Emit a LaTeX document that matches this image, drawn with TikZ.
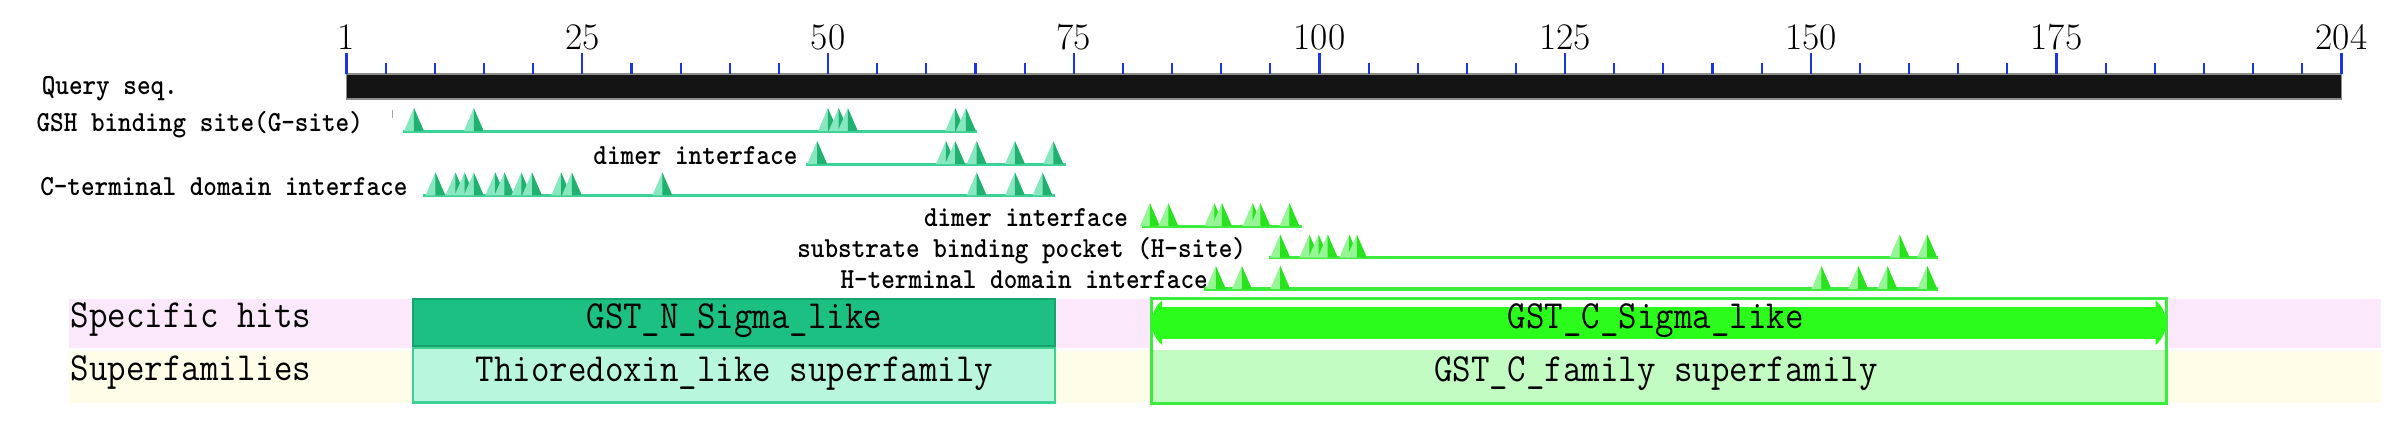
\documentclass[tikz,border=0pt]{standalone}
\usepackage{fontspec}
\usepackage{graphicx}
\usepackage{tikz}

\definecolor{tealline}{RGB}{60,210,150}
\definecolor{teallite}{RGB}{135,232,192}
\definecolor{tealdark}{RGB}{32,176,112}
\definecolor{greenline}{RGB}{60,236,60}
\definecolor{greenlite}{RGB}{150,246,150}
\definecolor{greendark}{RGB}{40,226,30}
\definecolor{tickblue}{RGB}{30,50,230}
\definecolor{hitpink}{RGB}{251,232,251}
\definecolor{supyellow}{RGB}{253,253,232}
\definecolor{nspec}{RGB}{28,192,130}
\definecolor{nsuper}{RGB}{184,247,222}
\definecolor{cspec}{RGB}{44,252,28}
\definecolor{csuper}{RGB}{194,252,194}

% site triangle: x, base y, colour prefix
\newcommand{\sitemark}[3]{%
  \fill[#3lite] (#1-6.5,#2) -- (#1,#2-15) -- (#1+6.5,#2) -- cycle;
  \fill[#3dark] (#1,#2) -- (#1,#2-15) -- (#1+6.5,#2) -- cycle;}
% condensed texts
\newcommand{\narrow}[1]{\scalebox{0.9}[1]{#1}}
\newcommand{\slim}[1]{\scalebox{0.89}[1]{#1}}

\begin{document}
\begin{tikzpicture}[x=0.25mm,y=-0.25mm,
    tick/.style={tickblue,line width=0.35mm},
    ticklabel/.style={anchor=base,inner sep=0pt,font=\fontsize{17.4}{20}\selectfont},
    featlabel/.style={anchor=base east,inner sep=0pt,font=\ttfamily\bfseries\fontsize{13.5}{15}\selectfont},
    hitlabel/.style={anchor=base west,inner sep=0pt,font=\ttfamily\fontsize{18.5}{22}\selectfont},
    boxtext/.style={anchor=base,inner sep=0pt,font=\ttfamily\fontsize{18.5}{22}\selectfont},
    track/.style={line width=0.5mm}]
    \useasboundingbox (0,0) rectangle (1568,286);

    % ruler and query
    \filldraw[fill=black!92,draw=black!45,line width=0.2mm] (226,48.3) rectangle (1527.2,64.6);
    \foreach \n in {5,10,...,200}
        \draw[tick] ({226+(\n-1)*6.41},48.3) -- ++(0,-7.4);
    \foreach \n in {1,25,50,75,100,125,150,175,204} {
        \draw[tick] ({226+(\n-1)*6.41},48.3) -- ++(0,-13.5);
        \node[ticklabel] (t\n) at ({226+(\n-1)*6.41},32.6) {\n};
    }
    \node[featlabel,anchor=base west] (qseq) at (27,61.6) {\slim{Query seq.}};

    % N-terminal sites
    \draw[black!35,line width=0.25mm] (256,72) -- (256,77);
    \draw[track,tealline] (263,85.5) -- (637,85.5);
    \foreach \x in {270,309,540,547,553,623,630} {\sitemark{\x}{85.5}{teal}}
    \node[featlabel] (gsite) at (237,86) {\slim{GSH binding site(G-site)}};

    \draw[track,tealline] (526,107) -- (695,107);
    \foreach \x in {533,617,623,637,662,687} {\sitemark{\x}{107}{teal}}
    \node[featlabel] (dimern) at (520.4,107) {\slim{dimer interface}};

    \draw[track,tealline] (276,127.5) -- (688,127.5);
    \foreach \x in {284,297,303,309,323,329,340,347,366,373,432,637,662,680} {\sitemark{\x}{127.5}{teal}}
    \node[featlabel] (cterm) at (266,127.5) {\slim{C-terminal domain interface}};

    % C-terminal sites
    \draw[track,greenline] (745,147.5) -- (849,147.5);
    \foreach \x in {750,762,792,797,817,822,841} {\sitemark{\x}{147.5}{green}}
    \node[featlabel] (dimerc) at (736,147.5) {\slim{dimer interface}};

    \draw[track,greenline] (828,168) -- (1264,168);
    \foreach \x in {835,854,860,866,880,885,1239,1257} {\sitemark{\x}{168}{green}}
    \node[featlabel] (hsite) at (813,168) {\slim{substrate binding pocket (H-site)}};

    \draw[track,greenline] (785,188.5) -- (1264,188.5);
    \foreach \x in {793,810,835,1188,1212,1231,1257} {\sitemark{\x}{188.5}{green}}
    \node[featlabel] (hterm) at (788,188.5) {\slim{H-terminal domain interface}};

    % domain hits
    \fill[hitpink] (45,195) rectangle (1553,227);
    \fill[supyellow] (45,229) rectangle (1553,263);
    \node[hitlabel] (spec) at (46,213.5) {\narrow{Specific hits}};
    \node[hitlabel] (superf) at (46,248.5) {\narrow{Superfamilies}};

    \filldraw[fill=nsuper,draw=tealline,line width=0.4mm] (269.5,227) rectangle (688,262.5);
    \filldraw[fill=nspec,draw=nspec!85!black,line width=0.3mm] (269.5,195) rectangle (688,225.5);
    \node[boxtext] (nsig) at (479,214) {\narrow{GST\_N\_Sigma\_like}};
    \node[boxtext] (thio) at (479,249) {\narrow{Thioredoxin\_like superfamily}};

    \filldraw[fill=white,draw=greenline,line width=0.5mm] (751,195) rectangle (1413,263);
    \fill[csuper] (752,228) rectangle (1412,262);
    \fill[cspec] (757,200) rectangle (1407,221);
    \fill[cspec] (758,196) .. controls (749,203) and (749,218) .. (758,225) -- cycle;
    \fill[cspec] (1406,196) .. controls (1415,203) and (1415,218) .. (1406,225) -- cycle;
    \node[boxtext] (csig) at (1080,214.5) {\narrow{GST\_C\_Sigma\_like}};
    \node[boxtext] (cfam) at (1080,249) {\narrow{GST\_C\_family superfamily}};
\end{tikzpicture}
\end{document}
